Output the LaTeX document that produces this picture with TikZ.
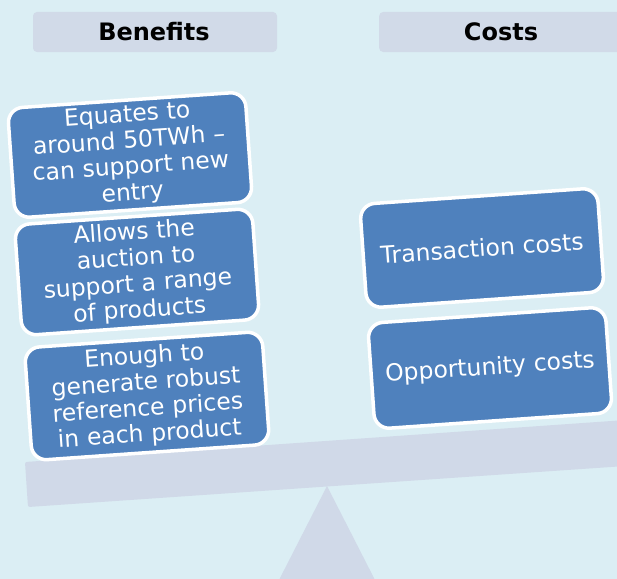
\documentclass[tikz,border=0pt]{standalone}
\usepackage{fontspec}
\setmainfont{DejaVu Sans}
\definecolor{bgc}{HTML}{DBEEF4}
\definecolor{hdrc}{HTML}{D1DAE8}
\definecolor{beamc}{HTML}{D0D9E8}
\definecolor{boxblue}{HTML}{4F81BD}
\tikzset{
  hdrbox/.style={rectangle, rounded corners=4pt, fill=hdrc, draw=none, inner sep=0pt,
    minimum height=40pt},
  hdrtext/.style={font=\bfseries\fontsize{24}{28}\selectfont, text=black, inner sep=0pt},
  itembox/.style={rectangle, rounded corners=15pt, fill=boxblue, draw=white, line width=3.5pt,
    inner sep=0pt, minimum width=238pt, text width=228pt, align=center, rotate=4,
    font=\fontsize{23.5}{26}\selectfont, text=white},
}
\begin{document}
\begin{tikzpicture}[x=1pt,y=-1pt]
\useasboundingbox (0,0) rectangle (617,578);
\clip (0,0) rectangle (617,578);
\fill[bgc] (-5,-5) rectangle (622,583);
% headers
\node[hdrbox, minimum width=244pt] (hb) at (155,32) {};
\node[hdrtext] (hbt) at (154,32) {Benefits};
\node[hdrbox, minimum width=250pt, anchor=west] (hc) at (379,32) {};
\node[hdrtext] (hct) at (501,32) {Costs};
% fulcrum and beam
\coordinate (apex) at (327,486);
\fill[beamc] (apex) -- (279,580) -- (375,580) -- cycle;
\fill[beamc, rounded corners=2pt] (25,462) -- (640,419) -- (640,465) -- (28,507) -- cycle;
% benefit boxes
\node[itembox, minimum height=110pt] (b1) at (130,155) {Equates to\\around 50TWh –\\can support new\\entry};
\node[itembox, minimum height=111pt] (b2) at (137,272) {Allows the\\auction to\\support a range\\of products};
\node[itembox, minimum height=113pt] (b3) at (147,396) {Enough to\\generate robust\\reference prices\\in each product};
% cost boxes
\node[itembox, minimum height=104pt] (c1) at (482,248) {Transaction costs};
\node[itembox, minimum height=106pt] (c2) at (490,368) {Opportunity costs};
\end{tikzpicture}
\end{document}
